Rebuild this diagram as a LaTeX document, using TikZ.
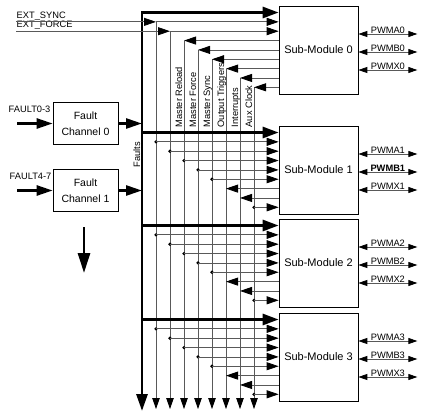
\documentclass[tikz,border=0pt]{standalone}
\usepackage{fontspec}
\setmainfont{Liberation Sans}
\usetikzlibrary{positioning,arrows.meta}

\tikzset{
  smbox/.style={draw, line width=0.7pt, minimum width=79pt, minimum height=88pt, font=\fontsize{11}{12}\selectfont},
  fchbox/.style={draw, line width=0.7pt, minimum width=65pt, minimum height=42pt, align=center, font=\fontsize{10.5}{16}\selectfont},
  sig/.style={draw=black!65, line width=0.8pt},
  sigin/.style={sig, -{Triangle[length=12pt,width=8pt,color=black]}},
  bus/.style={line width=2.8pt},
  fat/.style={line width=2.6pt, -{Triangle[length=16pt,width=10pt]}},
  pwm/.style={sig, {Triangle[length=9pt,width=6pt,color=black]}-{Triangle[length=9pt,width=6pt,color=black]}},
  lbl/.style={font=\fontsize{9.3}{10}\selectfont, inner sep=0.5pt},
  vlbl/.style={lbl, rotate=90, anchor=base west}
}

\begin{document}
\begin{tikzpicture}[x=1pt,y=-1pt]
\useasboundingbox (0,0) rectangle (445,418);

% sub-modules and fault channels
\foreach \i/\t in {0/6,1/126,2/219,3/313}
  \node[smbox] (sm\i) at (318.5,\t+44) {Sub-Module \i};
\node[fchbox] (fc0) at (85.5,123.5) {Fault\\Channel 0};
\node[fchbox] (fc1) at (85.5,190.5) {Fault\\Channel 1};

% fault bus
\coordinate (bustop) at (142,12.5);
\coordinate (busbot) at (142,411);
\draw[bus, {Triangle[length=17pt,width=11pt]}-{Triangle[length=16pt,width=11pt]}] (busbot) |- (sm0.west |- bustop);
\node[vlbl] (faults) at (140,168) {Faults};

% vertical signal lines
\foreach \k in {1,...,8} {
  \coordinate (v\k) at (142+14*\k,12.5+9.35*\k);
  \draw[sig, -{Triangle[length=11pt,width=7.5pt,color=black]}] (v\k) -- (v\k |- 0,409);
}
\foreach \k/\txt in {3/Master Reload,4/Master Force,5/Master Sync,6/Output Triggers,7/Interrupts,8/Aux Clock}
  \node[vlbl] (lab\k) at (140+14*\k,128) {\txt};

% external inputs
\node[lbl, anchor=west] (extsync) at (16,16.5) {EXT\_SYNC};
\node[lbl, anchor=west] (extforce) at (16,25.5) {EXT\_FORCE};
\draw[sigin] (extsync.west |- v1) -- (v1);
\draw[sigin] (extforce.west |- v2) -- (v2);
\draw[sigin] (v1) -- (sm0.west |- v1);
\draw[sigin] (v2) -- (sm0.west |- v2);
\foreach \k in {3,...,8}
  \draw[sigin] (sm0.west |- v\k) -- (v\k);

% taps into sub-modules 1..3
\foreach \i/\t in {1/126,2/219,3/313} {
  \draw[bus, -{Triangle[length=16pt,width=11pt]}] (bustop |- 0,\t+6.5) -- (sm\i.west |- 0,\t+6.5);
  \foreach \k in {1,2,3,4,5,8} {
    \pgfmathsetmacro\y{\t+6.5+9.35*\k}
    \fill (v\k |- 0,\y) circle[radius=1.8pt];
    \draw[sigin] (v\k |- 0,\y) -- (sm\i.west |- 0,\y);
  }
  \foreach \k in {6,7} {
    \pgfmathsetmacro\y{\t+6.5+9.35*\k}
    \draw[sigin] (sm\i.west |- 0,\y) -- (v\k |- 0,\y);
  }
}

% pwm outputs
\foreach \i/\t in {0/6,1/126,2/219,3/313}
  \foreach \s/\d in {A/28,B/46,X/64}
    \draw[pwm] (sm\i.east |- 0,\t+\d) -- ++(59,0)
      node[midway, above, lbl] {\if\s B\ifnum\i=1 \bfseries\fi\fi PWM\s\i};

% fault inputs
\node[lbl, anchor=west] (f03) at (8,109) {FAULT0-3};
\node[lbl, anchor=west] (f47) at (9,176) {FAULT4-7};
\coordinate (in0) at (17,123.5);
\coordinate (in1) at (17,190.5);
\draw[fat] (in0) -- (fc0.west);
\draw[fat] (in1) -- (fc1.west);
\draw[fat] (fc0.east) -- (fc0.east -| bustop);
\draw[fat] (fc1.east) -- (fc1.east -| bustop);

\coordinate (dn) at (84,227);
\draw[bus, -{Triangle[length=20pt,width=12pt]}] (dn) -- ++(0,46);

\end{tikzpicture}
\end{document}
